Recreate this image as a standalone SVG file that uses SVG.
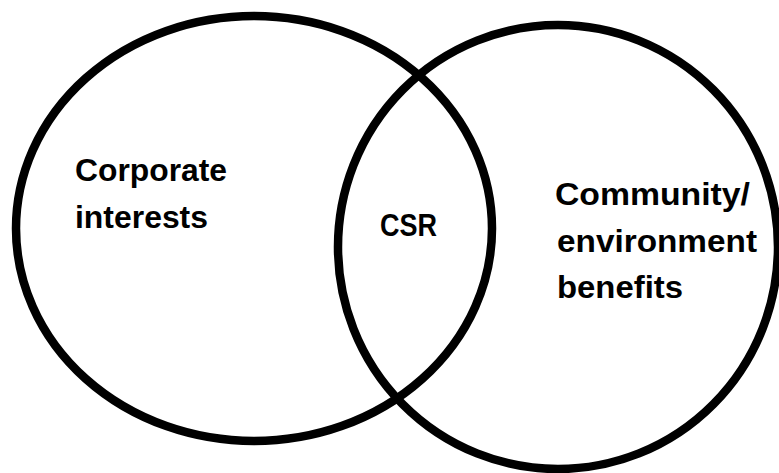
<svg xmlns="http://www.w3.org/2000/svg" width="779" height="473" viewBox="0 0 779 473">
<style>
.c{fill:none;stroke:#000;stroke-width:8.5}
.t{font-family:"Liberation Sans",Arial,sans-serif;font-weight:bold;font-size:31px;fill:#000}
</style>
<rect width="779" height="473" fill="#fff"/>
<g id="corporate">
<ellipse class="c" cx="254" cy="228.5" rx="238" ry="212.5"/>
<text class="t" x="75" y="181" textLength="152" lengthAdjust="spacingAndGlyphs">Corporate</text>
<text class="t" x="75" y="228" textLength="133" lengthAdjust="spacingAndGlyphs">interests</text>
</g>
<g id="community">
<ellipse class="c" cx="558" cy="247" rx="220" ry="222"/>
<text class="t" x="555" y="205" textLength="195" lengthAdjust="spacingAndGlyphs">Community/</text>
<text class="t" x="557" y="252" textLength="200" lengthAdjust="spacingAndGlyphs">environment</text>
<text class="t" x="557" y="298" textLength="126" lengthAdjust="spacingAndGlyphs">benefits</text>
</g>
<g id="csr">
<text class="t" x="380" y="236" textLength="57" lengthAdjust="spacingAndGlyphs">CSR</text>
</g>
<g id="connectors"></g>
</svg>
